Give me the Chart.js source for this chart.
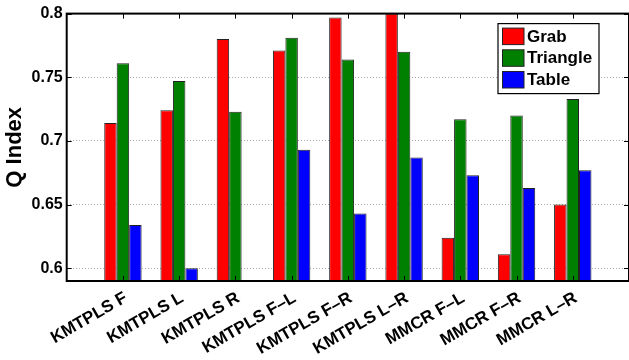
<!DOCTYPE html>
<html>
<head>
<meta charset="utf-8">
<script src="https://cdn.jsdelivr.net/npm/chart.js@4"></script>
<style>
  html, body { margin: 0; padding: 0; background: #fff; }
  #wrap { width: 629px; height: 360px; }
</style>
</head>
<body>
<div id="wrap"><canvas id="myChart" width="629" height="360"></canvas></div>
<script>
// data
const categories = ["KMTPLS F", "KMTPLS L", "KMTPLS R", "KMTPLS F\u2013L", "KMTPLS F\u2013R",
  "KMTPLS L\u2013R", "MMCR F\u2013L", "MMCR F\u2013R", "MMCR L\u2013R"];
const grab = [0.714, 0.724, 0.780, 0.771, 0.797, 0.800, 0.624, 0.611, 0.650];
const triangle = [0.761, 0.747, 0.723, 0.781, 0.764, 0.770, 0.717, 0.720, 0.733];
const table = [0.634, 0.600, 0.5905, 0.693, 0.643, 0.687, 0.673, 0.663, 0.677];
const yTicks = [0.6, 0.65, 0.7, 0.75, 0.8];
const yMin = 0.59;
const yMax = 0.8;

const FONT = "'Liberation Sans', Arial, sans-serif";

// matlab axis runs 0..10, so pad one empty slot at each end
const pad = (arr) => [null, ...arr, null];
const labels = ["", ...categories, ""];

// box, inner ticks and legend like the matlab figure
const matlabBox = {
  id: "matlabBox",
  afterDatasetsDraw(chart) {
    const { ctx, chartArea: a, scales } = chart;
    ctx.save();
    ctx.strokeStyle = "#000";
    ctx.lineWidth = 1;
    ctx.beginPath();
    labels.forEach((l, i) => {
      if (!l) return;
      const x = Math.round(scales.x.getPixelForValue(i)) + 0.5;
      ctx.moveTo(x, a.top); ctx.lineTo(x, a.top + 5);
      ctx.moveTo(x, a.bottom); ctx.lineTo(x, a.bottom - 5);
    });
    yTicks.forEach((v) => {
      const y = Math.round(scales.y.getPixelForValue(v)) + 0.5;
      ctx.moveTo(a.left, y); ctx.lineTo(a.left + 5, y);
      ctx.moveTo(a.right, y); ctx.lineTo(a.right - 5, y);
    });
    ctx.stroke();
    ctx.lineWidth = 2;
    ctx.strokeRect(a.left, a.top, a.right - a.left, a.bottom - a.top);

    // legend
    const bx = a.right - 131, by = a.top + 10, bw = 101, bh = 70;
    ctx.fillStyle = "#fff";
    ctx.fillRect(bx, by, bw, bh);
    ctx.lineWidth = 1.2;
    ctx.strokeRect(bx, by, bw, bh);
    ctx.font = "bold 17px " + FONT;
    ctx.textBaseline = "middle";
    chart.data.datasets.forEach((ds, i) => {
      const y = by + 4.5 + i * 21.7;
      ctx.fillStyle = ds.backgroundColor;
      ctx.fillRect(bx + 4.5, y, 21.5, 16.5);
      ctx.lineWidth = 1;
      ctx.strokeStyle = "#222";
      ctx.strokeRect(bx + 4.5, y, 21.5, 16.5);
      ctx.fillStyle = "#000";
      ctx.fillText(ds.label, bx + 29, y + 9);
    });
    ctx.restore();
  }
};

const ctx = document.getElementById("myChart").getContext("2d");
new Chart(ctx, {
  type: "bar",
  data: {
    labels: labels,
    datasets: [
      { label: "Grab", data: pad(grab), backgroundColor: "#ff0000" },
      { label: "Triangle", data: pad(triangle), backgroundColor: "#008000" },
      { label: "Table", data: pad(table), backgroundColor: "#0000ff" }
    ]
  },
  options: {
    responsive: false,
    animation: false,
    devicePixelRatio: 1,
    layout: { padding: { left: 0, right: 0, top: 12, bottom: 0 } },
    datasets: {
      bar: {
        categoryPercentage: 0.665,
        barPercentage: 1.0,
        borderColor: "#222",
        borderWidth: 1
      }
    },
    plugins: {
      legend: { display: false },
      tooltip: { enabled: false }
    },
    scales: {
      x: {
        offset: false,
        grid: { display: false, drawTicks: false },
        border: { display: false },
        ticks: {
          autoSkip: false,
          minRotation: 30,
          maxRotation: 30,
          padding: 7,
          labelOffset: 3,
          color: "#000",
          font: { family: FONT, size: 17, weight: "bold" }
        },
        afterFit(scale) {
          scale.height = 79;
          scale.paddingLeft = 0;
          scale.paddingRight = 0;
        }
      },
      y: {
        min: yMin,
        max: yMax,
        afterBuildTicks(scale) { scale.ticks = yTicks.map((v) => ({ value: v })); },
        grid: { color: "#a8a8a8", lineWidth: 1, drawTicks: false },
        border: { display: false, dash: [1, 2] },
        ticks: {
          padding: 4,
          color: "#000",
          font: { family: FONT, size: 16, weight: "bold" },
          callback: (v) => String(Math.round(v * 100) / 100)
        },
        title: {
          display: true,
          text: "Q Index",
          color: "#000",
          padding: { top: 2, bottom: 0 },
          font: { family: FONT, size: 22, weight: "bold" }
        },
        afterFit(scale) { scale.width = 66.7; }
      }
    }
  },
  plugins: [matlabBox]
});
</script>
</body>
</html>
